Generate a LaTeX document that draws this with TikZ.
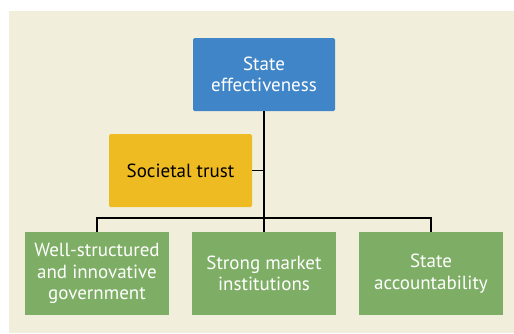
\documentclass[tikz,border=0pt]{standalone}
\usepackage{fontspec}
\setmainfont{PT Sans}
\usetikzlibrary{positioning, calc}
\definecolor{panel}{HTML}{F2EEDC}
\definecolor{seblue}{HTML}{3F85C7}
\definecolor{trustyellow}{HTML}{EEBC22}
\definecolor{pillargreen}{HTML}{7EAE65}

\begin{document}
\begin{tikzpicture}[x=1pt, y=-1pt]
\tikzset{
  base/.style={align=center, font=\fontsize{19}{21.5}\selectfont, inner sep=0pt},
  topbox/.style={base, fill=seblue, text=white, rounded corners=1.5pt, minimum width=142pt, minimum height=73pt},
  midbox/.style={base, fill=trustyellow, text=black, rounded corners=1.5pt, minimum width=143pt, minimum height=73pt},
  pillar/.style={base, fill=pillargreen, text=white, minimum width=144pt, minimum height=83pt},
  link/.style={draw=black, line width=1.2pt},
}

\useasboundingbox (0,0) rectangle (514,333);
\fill[panel] (9,11) rectangle (514,333);

\node[topbox] (se) at (264, 74.5) {State\\effectiveness};
\node[midbox] (trust) at (180.5, 170.5) {Societal trust};

\node[pillar] (gov) at (97, 273.5) {Well-structured\\and innovative\\government};
\node[pillar] (market) at (264, 273.5) {Strong market\\institutions};
\node[pillar] (acc) at (431, 273.5) {State\\accountability};

\coordinate (bar) at (264, 218);

\draw[link] (se.south) -- (market.north);
\draw[link] (trust.east) -- (trust.east -| se.south);
\draw[link] (gov.north) |- (bar) -| (acc.north);
\end{tikzpicture}
\end{document}
